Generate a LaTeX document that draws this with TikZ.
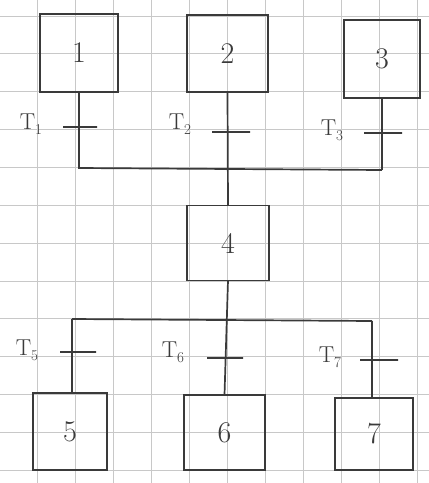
\documentclass[tikz,border=0pt]{standalone}
\usepackage{fontspec}
\usetikzlibrary{calc}
\definecolor{ink}{HTML}{3A3A3A}
\definecolor{gridc}{HTML}{C8C8C8}
\newcommand{\tlab}[1]{T\raisebox{-5pt}{\fontsize{15}{15}\selectfont #1}}
\begin{document}
\begin{tikzpicture}[x=1pt,y=-1pt,
  gridline/.style={draw=gridc,line width=0.8pt},
  inkline/.style={draw=ink,line width=1.7pt},
  place/.style={draw=ink,line width=1.7pt,rectangle,inner sep=0pt,outer sep=0pt,
    font=\fontsize{30}{30}\selectfont,text=ink},
  trans/.style={draw=ink,line width=1.5pt,rectangle,inner sep=0pt,outer sep=0pt,
    minimum height=0pt,minimum width=36pt},
  tlabel/.style={text=ink,font=\fontsize{23}{23}\selectfont,inner sep=0pt}]
\useasboundingbox (0,0) rectangle (429,483);
\fill[white] (0,0) rectangle (429,483);
% graph paper
\foreach \k in {0,...,11} {\draw[gridline] ({-1+38*\k},0) -- ({-1+38*\k},483);}
\foreach \k in {0,...,12} {\draw[gridline] (0,{16+37.85*\k}) -- (429,{16+37.85*\k});}

% places
\node[place,minimum width=78pt,minimum height=78pt] (p1) at (79,53) {1};
\node[place,minimum width=81pt,minimum height=77pt] (p2) at (227.5,53.5) {2};
\node[place,minimum width=76pt,minimum height=78pt] (p3) at (382,59) {3};
\node[place,minimum width=82pt,minimum height=75pt] (p4) at (228,243) {4};
\node[place,minimum width=74pt,minimum height=77pt] (p5) at (70,431.5) {5};
\node[place,minimum width=81pt,minimum height=75pt] (p6) at (224.5,432.5) {6};
\node[place,minimum width=78pt,minimum height=72pt] (p7) at (374,434) {7};

% junction coordinates
\coordinate (j1) at (79,168);
\coordinate (j3) at (382,170);
\coordinate (j5) at (72,319);
\coordinate (j7) at (372,321);

% upper connectors
\draw[inkline] (p1.south) -- (j1) -- (j3);
\draw[inkline] (p3.south) -- (j3);
\draw[inkline] (p2.south) -- (p4.north);
% lower connectors
\draw[inkline] (p4.south) -- (p6.north);
\draw[inkline] (j5) -- (j7);
\draw[inkline] (j5) -- (j5 |- p5.north);
\draw[inkline] (j7) -- (j7 |- p7.north);

% transitions (ticks)
\node[trans,minimum width=34pt] (t1) at (80,127) {};
\node[trans,minimum width=38pt] (t2) at (231,132) {};
\node[trans,minimum width=38pt] (t3) at (383,133) {};
\node[trans,minimum width=36pt] (t5) at (78,352) {};
\node[trans,minimum width=36pt] (t6) at (225,358) {};
\node[trans,minimum width=38pt] (t7) at (379,360) {};

% labels
\node[tlabel] (l1) at (31,124) {\tlab{1}};
\node[tlabel] (l2) at (180,124) {\tlab{2}};
\node[tlabel] (l3) at (332,130) {\tlab{3}};
\node[tlabel] (l5) at (27,350) {\tlab{5}};
\node[tlabel] (l6) at (173,352) {\tlab{6}};
\node[tlabel] (l7) at (330,357) {\tlab{7}};
\end{tikzpicture}
\end{document}
